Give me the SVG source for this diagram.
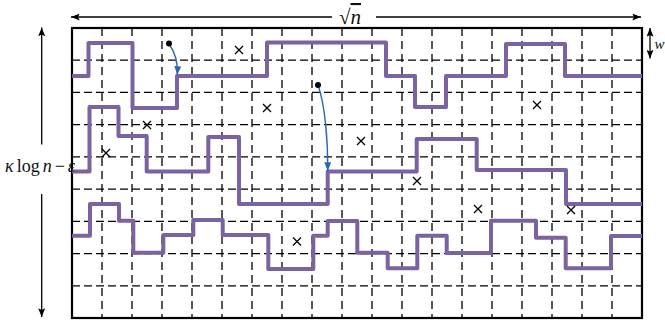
<svg xmlns="http://www.w3.org/2000/svg" width="665" height="325" viewBox="0 0 665 325">
<style>
.grid{stroke:#000;stroke-width:1.3;fill:none}
.gh{stroke-dasharray:8 4}
.gv{stroke-dasharray:8 5}
.frame{fill:none;stroke:#000;stroke-width:2.2}
.walk{fill:none;stroke:#7b62a0;stroke-width:4;stroke-linejoin:round}
.cross{stroke:#000;stroke-width:1.3;fill:none}
.dim{stroke:#000;stroke-width:1.3;fill:none}
.blue{stroke:#2a68b0;stroke-width:1.4;fill:none}
.lbl{font-family:"Liberation Serif","DejaVu Serif",serif;fill:#111}
</style>
<defs>
<marker id="ah" viewBox="0 0 10 8" refX="10" refY="4" markerWidth="9" markerHeight="7" markerUnits="userSpaceOnUse" orient="auto-start-reverse">
<path d="M0,0 L10,4 L0,8 L2,4 Z" fill="#000"/>
</marker>
<marker id="ahb" viewBox="0 0 10 8" refX="10" refY="4" markerWidth="9" markerHeight="7" markerUnits="userSpaceOnUse" orient="auto">
<path d="M0,0 L10,4 L0,8 Z" fill="#2a68b0"/>
</marker>
<path id="x" d="M-4,-4 L4,4 M-4,4 L4,-4"/>
</defs>
<g id="grid">
<path class="grid gv" d="M102,28V318M132,28V318M162,28V318M192,28V318M222,28V318M252,28V318M282,28V318M312,28V318M342,28V318M372,28V318M402,28V318M432,28V318M462,28V318M492,28V318M522,28V318M552,28V318M582,28V318M612,28V318"/>
<path class="grid gh" d="M72,60.2H642M72,92.4H642M72,124.7H642M72,156.9H642M72,189.1H642M72,221.3H642M72,253.6H642M72,285.8H642"/>
</g>
<rect id="frame" class="frame" x="72" y="28" width="570" height="290"/>
<g id="walks">
<path id="walk1" class="walk" d="M72,76H88.5V43H132.5V108H177V76H267V42.5H386V76H415V107H446V76H506V44H565V76H642"/>
<path id="walk2" class="walk" d="M72,171.5H89.5V107H118.5V136H146.7V171.5H208.3V137H239V204H327.7V171.5H416.7V139H476.7V170H566V204H642"/>
<path id="walk3" class="walk" d="M72,235.7H90V204H119V220.7H133.3V252.7H163.3V235H193.3V220H222.7V235H268.3V269H313.3V235.7H327.7V221H357.3V252.7H387.7V268.3H417.3V235.7H446.7V253H491V220.7H536V237.7H565.7V268.3H611V236H642"/>
</g>
<g id="crosses" class="cross">
<use href="#x" x="239" y="50"/>
<use href="#x" x="267" y="108"/>
<use href="#x" x="147" y="125"/>
<use href="#x" x="106" y="153"/>
<use href="#x" x="361" y="141"/>
<use href="#x" x="417" y="181"/>
<use href="#x" x="537" y="105"/>
<use href="#x" x="478" y="209"/>
<use href="#x" x="571" y="210"/>
<use href="#x" x="297" y="241.5"/>
</g>
<g id="connectors">
<path class="blue" d="M169,44 C175,52 178,62 177.3,75" marker-end="url(#ahb)"/>
<path class="blue" d="M318,85 C325,105 328,140 327.7,171" marker-end="url(#ahb)"/>
<circle cx="169" cy="43.5" r="3" fill="#000"/>
<circle cx="318" cy="85" r="3" fill="#000"/>
</g>
<g id="dimensions">
<path class="dim" d="M332,17H71" marker-end="url(#ah)"/>
<path class="dim" d="M376,17H641" marker-end="url(#ah)"/>
<path class="dim" d="M41.7,144.5V27.5" marker-end="url(#ah)"/>
<path class="dim" d="M41.7,194V317" marker-end="url(#ah)"/>
<path class="dim" d="M650,28V58.5" marker-start="url(#ah)" marker-end="url(#ah)"/>
<text class="lbl" x="5" y="171.5" font-size="18" word-spacing="-1.5"><tspan font-style="italic">κ</tspan> log <tspan font-style="italic">n</tspan> − <tspan font-style="italic">ε</tspan></text>
<text class="lbl" x="339" y="24" font-size="21">√<tspan font-style="italic" text-decoration="overline">n</tspan></text>
<text class="lbl" x="654.5" y="49" font-size="15" font-style="italic">w</text>
</g>
</svg>
